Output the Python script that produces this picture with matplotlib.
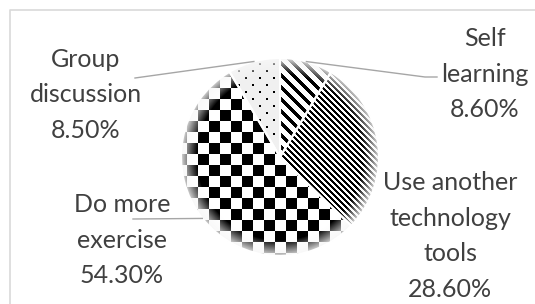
import numpy as np
import matplotlib.pyplot as plt
from matplotlib.lines import Line2D
from matplotlib.patches import Wedge

# pie data
labels = ["Self\nlearning", "Use another\ntechnology\ntools", "Do more\nexercise", "Group\ndiscussion"]
values = [8.6, 28.6, 54.3, 8.5]

W, H = 535, 304
fig = plt.figure(figsize=(5.35, 3.04), dpi=100)
ax = fig.add_axes([0, 0, 1, 1])

R = 99
wedges, _ = ax.pie(values, startangle=90, counterclock=False, center=(280, H - 157), radius=R,
                   explode=[0.025] * 4, frame=True,
                   wedgeprops=dict(facecolor='white', edgecolor='white', linewidth=1))
ax.set_xlim(0, W)
ax.set_ylim(0, H)
ax.axis('off')

# fill patterns (screen pixel grid, row 0 = top)
yy, xx = np.mgrid[0:H, 0:W]
pat_self = np.where(((xx - yy) % 12) < 5, 0.0, 1.0)
pat_tech = np.where(((xx - yy) % 6) < 3, 0.0, 1.0)
pat_exer = np.where(((xx // 11) + (yy // 11)) % 2 == 0, 0.0, 1.0)
dots = (((xx % 14) < 2) & ((yy % 14) < 2)) | ((((xx + 7) % 14) < 2) & (((yy + 7) % 14) < 2))
pat_group = np.where(dots, 0.0, 0.94)
patterns = [pat_self, pat_tech, pat_exer, pat_group]

for w, pat in zip(wedges, patterns):
    im = ax.imshow(pat, cmap='gray', vmin=0, vmax=1, interpolation='nearest',
                   extent=(0, W, 0, H), origin='upper', zorder=2)
    im.set_clip_path(w)
    # soft white rim like the excel bevel
    cx, cy = w.center
    r = np.hypot(xx + 0.5 - cx, (H - yy - 0.5) - cy)
    a = np.clip((r - (R - 16)) / 16, 0, 1) * 0.88
    shade = np.ones((H, W, 4))
    shade[..., :3] = 0.97
    shade[..., 3] = a
    sh = ax.imshow(shade, interpolation='bilinear', extent=(0, W, 0, H), origin='upper', zorder=3)
    sh.set_clip_path(w)
    ax.add_patch(Wedge(w.center, w.r, w.theta1, w.theta2,
                       fill=False, edgecolor='white', linewidth=1.5, zorder=4))

# labels
txt = dict(ha='center', va='center', fontsize=18, color='#404040', family='Lato', linespacing=1.65)
label_pos = [(485, 74), (450, 236), (122, 240), (86, 95)]
for lab, v, (lx, ly) in zip(labels, values, label_pos):
    ax.text(lx, H - ly, f"{lab}\n{v:.2f}%", **txt)

# leader lines
ends = {0: [(425, 77), (437, 77)], 2: [(133, 219)], 3: [(135, 78)]}
for i, pts in ends.items():
    w = wedges[i]
    ang = np.radians((w.theta1 + w.theta2) / 2)
    x0 = w.center[0] + w.r * np.cos(ang)
    y0 = w.center[1] + w.r * np.sin(ang)
    xs = [x0] + [p[0] for p in pts]
    ys = [y0] + [H - p[1] for p in pts]
    ax.plot(xs, ys, color='#a6a6a6', lw=1, zorder=5)

# chart frame (right and bottom cut off)
ax.add_line(Line2D([10, 10, W], [0, H - 10, H - 10], color='#d9d9d9', lw=1.2))

fig.savefig("out.png", dpi=100)
